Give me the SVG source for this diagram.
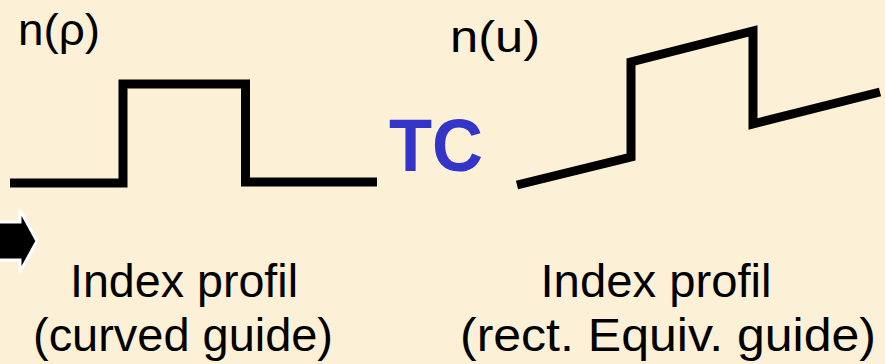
<svg xmlns="http://www.w3.org/2000/svg" width="885" height="364" viewBox="0 0 885 364">
<style>
.bg{fill:#FCF0D7}
.lbl{font-family:"Liberation Sans",Arial,sans-serif;fill:#000}
.cap{font-size:46px;text-anchor:middle}
.ax{font-size:45px}
.tc{font-family:"Liberation Sans",Arial,sans-serif;font-weight:bold;font-size:74px;fill:#3434C8}
.prof{fill:none;stroke:#000;stroke-width:9;stroke-linejoin:miter;stroke-miterlimit:10}
</style>
<rect class="bg" x="0" y="0" width="885" height="364"/>
<g id="arrow">
<path d="M-10,222 L20,222 L20,210 L37,241 L20,272 L20,260 L-10,260 Z" fill="#000" stroke="#fff" stroke-width="3" stroke-linejoin="miter"/>
</g>
<g id="profile-curved">
<path class="prof" d="M10,183 L123,183 L123,84 L245.5,84 L245.5,182 L377,182"/>
<text class="lbl ax" x="18" y="45" textLength="82" lengthAdjust="spacingAndGlyphs">n(ρ)</text>
</g>
<g id="tc">
<text class="tc" x="389" y="171" textLength="94" lengthAdjust="spacingAndGlyphs">TC</text>
</g>
<g id="profile-rect">
<path class="prof" d="M517,185 L631,157 L631,62 L753,31 L753,124 L880,92"/>
<text class="lbl ax" x="450" y="52" textLength="90" lengthAdjust="spacingAndGlyphs">n(u)</text>
</g>
<g id="caption-left">
<text class="lbl cap" x="184" y="297" textLength="228" lengthAdjust="spacingAndGlyphs">Index profil</text>
<text class="lbl cap" x="183" y="351" textLength="300" lengthAdjust="spacingAndGlyphs">(curved guide)</text>
</g>
<g id="caption-right">
<text class="lbl cap" x="656" y="297" textLength="231" lengthAdjust="spacingAndGlyphs">Index profil</text>
<text class="lbl cap" x="668" y="351" textLength="416" lengthAdjust="spacingAndGlyphs">(rect. Equiv. guide)</text>
</g>
</svg>
